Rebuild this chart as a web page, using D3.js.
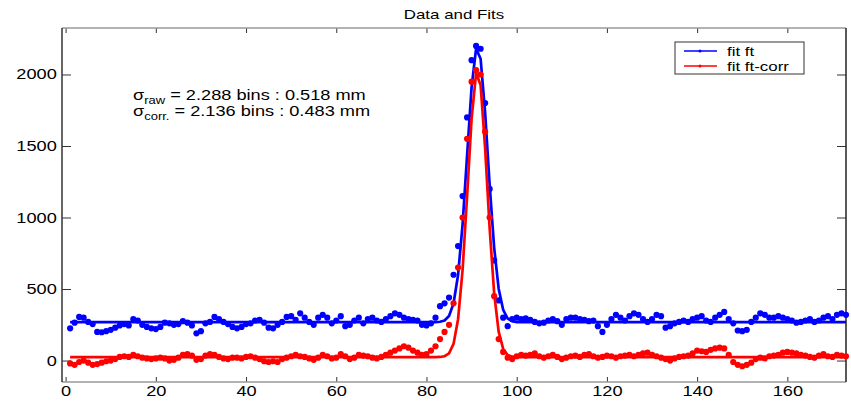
<!DOCTYPE html>
<html>
<head>
<meta charset="UTF-8">
<style>
  body { margin: 0; background: #fff; }
  svg text { font-family: "Liberation Sans", Arial, sans-serif; fill: #000; }
  .tick text { font-size: 14px; }
</style>
</head>
<body>
<svg id="chart" width="851" height="405"></svg>
<script src="https://d3js.org/d3.v7.min.js"></script>
<script>
// bins 1..173
let bins = d3.range(1, 174);

// raw data (blue)
let dataFt = [225,265,305,300,270,255,200,198,205,215,
  230,245,255,245,290,280,250,235,225,220,
  235,265,260,250,255,275,265,245,190,205,
  260,270,305,290,270,255,235,225,235,255,
  260,280,285,265,230,225,250,270,305,310,
  285,330,300,270,250,300,320,300,260,280,
  310,240,250,280,300,260,290,300,280,270,
  290,310,330,320,300,290,285,280,250,245,
  260,300,380,400,440,600,800,1150,1700,2100,
  2200,2180,1800,1200,700,420,300,240,290,300,
  290,295,285,270,260,265,280,290,275,250,
  290,300,300,290,285,275,280,240,200,250,
  290,320,300,280,310,330,320,290,270,290,
  320,310,230,240,260,270,280,270,290,300,
  310,280,270,300,320,340,290,260,210,205,
  215,270,300,330,320,300,300,310,300,290,
  280,265,270,280,290,270,280,300,310,290,
  320,330,320];

// corrected data (red)
let dataCorr = [-20,-30,-10,0,-15,-30,-25,-15,-5,0,
  10,25,30,25,40,30,20,15,10,15,
  20,15,0,5,20,40,45,35,5,10,
  35,45,40,25,15,10,20,20,15,25,
  30,20,10,-5,-10,-5,-10,10,20,30,
  40,30,25,15,5,20,40,30,15,20,
  45,30,10,20,40,35,30,20,15,25,
  40,55,70,85,100,90,70,55,40,45,
  70,100,150,200,250,400,650,1000,1550,1950,
  2030,2000,1600,1000,450,150,60,20,10,30,
  40,35,40,50,30,20,30,40,25,10,
  20,30,35,25,40,45,30,20,25,35,
  30,20,30,35,40,30,40,50,55,40,
  30,20,10,0,15,25,30,35,50,70,
  65,60,75,85,90,85,40,-10,-30,-40,
  -30,-15,10,20,15,30,35,40,55,60,
  55,50,40,35,25,20,35,45,30,25,
  40,35,30];

// fitted curves, read at the bins where they leave the baseline
let fitBins = [1,82,83,84,85,86,87,88,89,90,91,92,93,94,95,96,97,98,99,100,101,173];
let fitFt   = [268,268,271,280,312,400,598,950,1433,1911,2181,2110,1733,1230,790,502,355,294,275,269,268,268];
let fitCorr = [24,24,25,30,50,116,289,633,1147,1691,2010,1926,1485,926,471,202,81,39,27,24,24,24];

let xTicks = [0,20,40,60,80,100,120,140,160];
let yTicks = [0,500,1000,1500,2000];
let legendLabels = ["fit ft", "fit ft-corr"];
let colors = ["#0000ff", "#ff0000"];

let pLeft = 62, pRight = 846, pTop = 28, pBottom = 382;
let stretch = 1.3;   // the picture's text is wider than it is tall

let svg = d3.select("#chart");

let x = d3.scaleLinear().domain([-0.8, 173]).range([pLeft, pRight]);
let y = d3.scaleLinear().domain([-150, 2325]).range([pBottom, pTop]);

// axes, ticks pointing inward like matlab
svg.append("g")
  .attr("transform", "translate(0," + pBottom + ")")
  .call(d3.axisBottom(x).tickValues(xTicks).tickFormat(d3.format("d")).tickSizeInner(-5).tickSizeOuter(0).tickPadding(4))
  .call(g => g.select(".domain").remove());
svg.append("g")
  .attr("transform", "translate(0," + pTop + ")")
  .call(d3.axisTop(x).tickValues(xTicks).tickSizeInner(-5).tickSizeOuter(0).tickFormat(""))
  .call(g => g.select(".domain").remove());
svg.append("g")
  .attr("transform", "translate(" + pLeft + ",0)")
  .call(d3.axisLeft(y).tickValues(yTicks).tickFormat(d3.format("d")).tickSizeInner(-9).tickSizeOuter(0).tickPadding(4))
  .call(g => g.select(".domain").remove());
svg.append("g")
  .attr("transform", "translate(" + pRight + ",0)")
  .call(d3.axisRight(y).tickValues(yTicks).tickSizeInner(-9).tickSizeOuter(0).tickFormat(""))
  .call(g => g.select(".domain").remove());
svg.selectAll(".tick line").attr("stroke", "#333");
svg.selectAll(".tick text").attr("transform", "scale(" + stretch + ",1)");

// box
svg.append("line").attr("x1", pLeft).attr("x2", pRight).attr("y1", pTop).attr("y2", pTop).attr("stroke", "#999").attr("stroke-width", 1.5);
svg.append("line").attr("x1", pLeft).attr("x2", pRight).attr("y1", pBottom).attr("y2", pBottom).attr("stroke", "#999").attr("stroke-width", 1.5);
svg.append("line").attr("x1", pLeft).attr("x2", pLeft).attr("y1", pTop).attr("y2", pBottom).attr("stroke", "#333").attr("stroke-width", 1.5);
svg.append("line").attr("x1", pRight).attr("x2", pRight).attr("y1", pTop).attr("y2", pBottom).attr("stroke", "#222").attr("stroke-width", 1.5);

let line = d3.line().x(d => x(d[0])).y(d => y(d[1]));
let plot = svg.append("g");

function drawSeries(vals, fit, color) {
  plot.append("g").selectAll("circle")
    .data(vals)
    .enter()
    .append("circle")
      .attr("cx", (d, i) => x(bins[i]))
      .attr("cy", d => y(d))
      .attr("r", 3.1)
      .attr("fill", color);
  plot.append("path")
    .attr("d", line(fitBins.map((b, i) => [b, fit[i]])))
    .attr("fill", "none")
    .attr("stroke", color)
    .attr("stroke-width", 2.7);
}
drawSeries(dataFt, fitFt, colors[0]);
drawSeries(dataCorr, fitCorr, colors[1]);

// text placed at (tx,ty) and stretched sideways
function wideText(tx, ty, size, anchor) {
  return svg.append("g")
    .attr("transform", "translate(" + tx + "," + ty + ") scale(" + stretch + ",1)")
    .append("text")
    .attr("text-anchor", anchor)
    .style("font-size", size + "px");
}

wideText((pLeft + pRight) / 2, 19, 13, "middle").text("Data and Fits");

// sigma annotation
let notes = [
  { sub: "raw", rest: " = 2.288 bins : 0.518 mm" },
  { sub: "corr.", rest: " = 2.136 bins : 0.483 mm" }
];
notes.forEach((n, i) => {
  let t = wideText(133, 100 + i * 16, 14, "start");
  t.append("tspan").text("σ");
  t.append("tspan").attr("dy", 4).style("font-size", "10px").text(n.sub);
  t.append("tspan").attr("dy", -4).text(n.rest);
});

// legend
svg.append("rect")
  .attr("x", 675).attr("y", 42).attr("width", 129).attr("height", 32)
  .attr("fill", "#fff").attr("stroke", "#333").attr("stroke-width", 1);
legendLabels.forEach((lab, i) => {
  let ly = 51 + i * 15;
  svg.append("line").attr("x1", 684).attr("x2", 717).attr("y1", ly).attr("y2", ly)
    .attr("stroke", colors[i]).attr("stroke-width", 1.5);
  svg.append("circle").attr("cx", 700).attr("cy", ly).attr("r", 1.5).attr("fill", colors[i]);
  wideText(727, ly + 4.5, 13, "start").text(lab);
});
</script>
</body>
</html>
